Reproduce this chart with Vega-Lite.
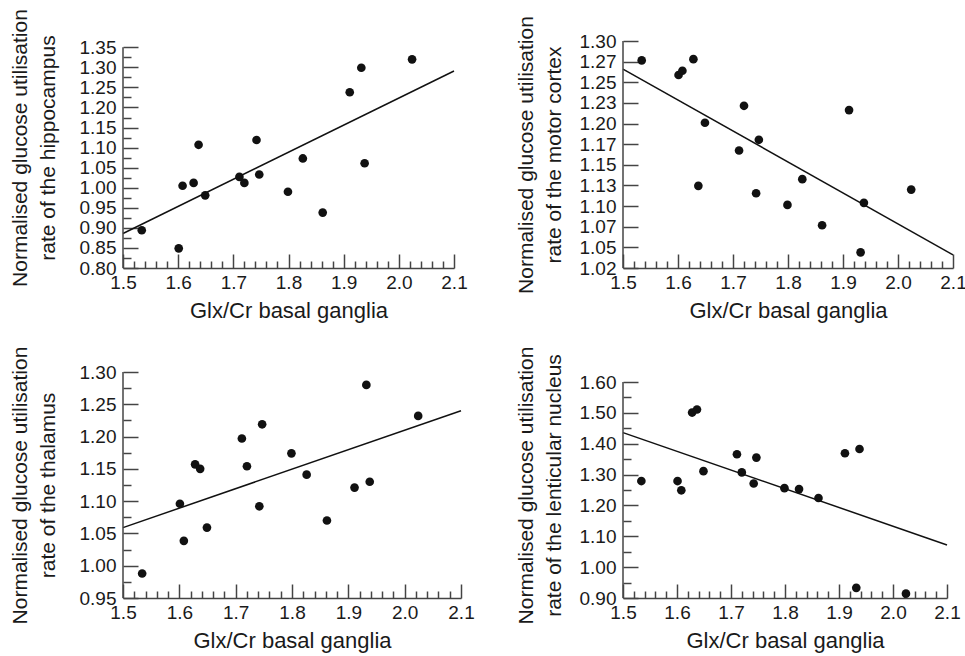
{
  "$schema": "https://vega.github.io/schema/vega-lite/v6.json",
  "padding": {"left": 9, "top": 8, "right": 5, "bottom": 5},
  "config": {
    "font": "Liberation Sans",
    "view": {"stroke": null},
    "axis": {
      "labelFont": "Liberation Sans", "titleFont": "Liberation Sans",
      "labelFontSize": 19, "titleFontSize": 21, "titleFontWeight": "normal",
      "labelColor": "#1a1a1a", "titleColor": "#1a1a1a",
      "domainColor": "#444", "domainWidth": 1.5, "tickColor": "#444", "tickWidth": 1.5,
      "grid": false, "labelOverlap": false, "labelFlush": false, "labelBound": false,
      "titleLineHeight": 28
    }
  },
  "datasets": {
    "subjects": [
      {"glx": 1.534, "hippocampus": 0.894, "motor": 1.2765, "thalamus": 0.988, "lenticular": 1.279},
      {"glx": 1.601, "hippocampus": 0.849, "motor": 1.2588, "thalamus": 1.096, "lenticular": 1.279},
      {"glx": 1.608, "hippocampus": 1.005, "motor": 1.264, "thalamus": 1.0385, "lenticular": 1.249},
      {"glx": 1.628, "hippocampus": 1.012, "motor": 1.278, "thalamus": 1.157, "lenticular": 1.501},
      {"glx": 1.637, "hippocampus": 1.107, "motor": 1.1245, "thalamus": 1.150, "lenticular": 1.511},
      {"glx": 1.649, "hippocampus": 0.981, "motor": 1.201, "thalamus": 1.059, "lenticular": 1.311},
      {"glx": 1.711, "hippocampus": 1.027, "motor": 1.1674, "thalamus": 1.197, "lenticular": 1.366},
      {"glx": 1.720, "hippocampus": 1.012, "motor": 1.2215, "thalamus": 1.154, "lenticular": 1.307},
      {"glx": 1.742, "hippocampus": 1.119, "motor": 1.1156, "thalamus": 1.092, "lenticular": 1.271},
      {"glx": 1.747, "hippocampus": 1.033, "motor": 1.1803, "thalamus": 1.219, "lenticular": 1.355},
      {"glx": 1.799, "hippocampus": 0.990, "motor": 1.1014, "thalamus": 1.174, "lenticular": 1.256},
      {"glx": 1.826, "hippocampus": 1.073, "motor": 1.1326, "thalamus": 1.141, "lenticular": 1.253},
      {"glx": 1.862, "hippocampus": 0.938, "motor": 1.0768, "thalamus": 1.070, "lenticular": 1.224},
      {"glx": 1.911, "hippocampus": 1.238, "motor": 1.2163, "thalamus": 1.121, "lenticular": 1.369},
      {"glx": 1.932, "hippocampus": 1.299, "motor": 1.044, "thalamus": 1.280, "lenticular": 0.933},
      {"glx": 1.938, "hippocampus": 1.061, "motor": 1.1039, "thalamus": 1.130, "lenticular": 1.383},
      {"glx": 2.024, "hippocampus": 1.320, "motor": 1.120, "thalamus": 1.232, "lenticular": 0.914}
    ],
    "fits": [
      {"glx": 1.5, "hippocampus": 0.886, "motor": 1.266, "thalamus": 1.059, "lenticular": 1.436},
      {"glx": 2.1, "hippocampus": 1.291, "motor": 1.041, "thalamus": 1.240, "lenticular": 1.072}
    ]
  },
  "bounds": "flush",
  "spacing": 500,
  "hconcat": [
    {
      "bounds": "flush",
      "spacing": 104,
      "vconcat": [
        {
          "width": 331, "height": 227,
          "resolve": {"axis": {"x": "independent", "y": "independent"}},
          "layer": [
            {
              "data": {"name": "subjects"},
              "mark": {"type": "circle", "size": 75, "color": "#111", "opacity": 1},
              "encoding": {
                "x": {"field": "glx", "type": "quantitative", "scale": {"domain": [1.5, 2.1], "nice": false, "zero": false},
                  "axis": {"orient": "bottom", "values": [1.5, 1.6, 1.7, 1.8, 1.9, 2.0, 2.1], "format": ".1f", "ticks": false, "labelPadding": 5, "labelFontSize": 19, "title": "Glx/Cr basal ganglia", "titleFontSize": 22, "titlePadding": 8}},
                "y": {"field": "hippocampus", "type": "quantitative", "scale": {"domain": [0.8, 1.3657], "nice": false, "zero": false},
                  "axis": {"orient": "left", "values": [0.8, 0.85, 0.9, 0.95, 1.0, 1.05, 1.1, 1.15, 1.2, 1.25, 1.3, 1.35], "format": ".2f", "ticks": false, "labelPadding": 7, "labelFontSize": 19, "domain": false,
                    "title": ["Normalised glucose utilisation", "rate of the hippocampus"], "titlePadding": 21, "titleY": 106.5}}
              }
            },
            {
              "data": {"name": "fits"},
              "mark": {"type": "line", "color": "#111", "strokeWidth": 1.5},
              "encoding": {
                "x": {"field": "glx", "type": "quantitative", "scale": {"domain": [1.5, 2.1], "nice": false, "zero": false},
                  "axis": {"orient": "top", "offset": -227, "values": [1.5, 1.6, 1.7, 1.8, 1.9, 2.0, 2.1], "tickSize": 14, "labels": false, "domain": false, "title": null}},
                "y": {"field": "hippocampus", "type": "quantitative", "scale": {"domain": [0.8, 1.3657], "nice": false, "zero": false},
                  "axis": {"orient": "right", "offset": -331, "values": [0.8, 0.85, 0.9, 0.95, 1.0, 1.05, 1.1, 1.15, 1.2, 1.25, 1.3, 1.35], "tickSize": 15, "labels": false, "domain": false, "title": null}}
              }
            },
            {
              "data": {"values": [{}]},
              "mark": {"type": "rule", "color": "#444", "strokeWidth": 1.5},
              "encoding": {
                "x": {"datum": 1.5, "type": "quantitative", "scale": {"domain": [1.5, 2.1], "nice": false, "zero": false},
                  "axis": {"orient": "top", "offset": -227, "values": [1.52, 1.54, 1.56, 1.58, 1.62, 1.64, 1.66, 1.68, 1.72, 1.74, 1.76, 1.78, 1.82, 1.84, 1.86, 1.88, 1.92, 1.94, 1.96, 1.98, 2.02, 2.04, 2.06, 2.08], "tickSize": 7, "labels": false, "domain": false, "title": null}},
                "y": {"datum": 0.8, "type": "quantitative", "scale": {"domain": [0.8, 1.3657], "nice": false, "zero": false},
                  "axis": {"orient": "right", "offset": -331, "values": [0.825, 0.875, 0.925, 0.975, 1.025, 1.075, 1.125, 1.175, 1.225, 1.275, 1.325], "tickSize": 8, "labels": false, "domain": false, "title": null}},
                "y2": {"datum": 1.35}
              }
            }
          ]
        },
        {
          "width": 338, "height": 226,
          "resolve": {"axis": {"x": "independent", "y": "independent"}},
          "layer": [
            {
              "data": {"name": "subjects"},
              "mark": {"type": "circle", "size": 75, "color": "#111", "opacity": 1},
              "encoding": {
                "x": {"field": "glx", "type": "quantitative", "scale": {"domain": [1.5, 2.1], "nice": false, "zero": false},
                  "axis": {"orient": "bottom", "values": [1.5, 1.6, 1.7, 1.8, 1.9, 2.0, 2.1], "format": ".1f", "ticks": false, "labelPadding": 5, "labelFontSize": 19, "title": "Glx/Cr basal ganglia", "titleFontSize": 22, "titlePadding": 8}},
                "y": {"field": "thalamus", "type": "quantitative", "scale": {"domain": [0.95, 1.3], "nice": false, "zero": false},
                  "axis": {"orient": "left", "values": [0.95, 1.0, 1.05, 1.1, 1.15, 1.2, 1.25, 1.3], "format": ".2f", "ticks": false, "labelPadding": 7, "labelFontSize": 19, "domain": false,
                    "title": ["Normalised glucose utilisation", "rate of the thalamus"], "titlePadding": 21}}
              }
            },
            {
              "data": {"name": "fits"},
              "mark": {"type": "line", "color": "#111", "strokeWidth": 1.5},
              "encoding": {
                "x": {"field": "glx", "type": "quantitative", "scale": {"domain": [1.5, 2.1], "nice": false, "zero": false},
                  "axis": {"orient": "top", "offset": -226, "values": [1.5, 1.6, 1.7, 1.8, 1.9, 2.0, 2.1], "tickSize": 14, "labels": false, "domain": false, "title": null}},
                "y": {"field": "thalamus", "type": "quantitative", "scale": {"domain": [0.95, 1.3], "nice": false, "zero": false},
                  "axis": {"orient": "right", "offset": -338, "values": [0.95, 1.0, 1.05, 1.1, 1.15, 1.2, 1.25, 1.3], "tickSize": 15, "labels": false, "domain": false, "title": null}}
              }
            },
            {
              "data": {"values": [{}]},
              "mark": {"type": "rule", "color": "#444", "strokeWidth": 1.5},
              "encoding": {
                "x": {"datum": 1.5, "type": "quantitative", "scale": {"domain": [1.5, 2.1], "nice": false, "zero": false},
                  "axis": {"orient": "top", "offset": -226, "values": [1.52, 1.54, 1.56, 1.58, 1.62, 1.64, 1.66, 1.68, 1.72, 1.74, 1.76, 1.78, 1.82, 1.84, 1.86, 1.88, 1.92, 1.94, 1.96, 1.98, 2.02, 2.04, 2.06, 2.08], "tickSize": 7, "labels": false, "domain": false, "title": null}},
                "y": {"datum": 0.95, "type": "quantitative", "scale": {"domain": [0.95, 1.3], "nice": false, "zero": false},
                  "axis": {"orient": "right", "offset": -338, "values": [0.975, 1.025, 1.075, 1.125, 1.175, 1.225, 1.275], "tickSize": 8, "labels": false, "domain": false, "title": null}},
                "y2": {"datum": 1.3}
              }
            }
          ]
        }
      ]
    },
    {
      "bounds": "flush",
      "spacing": 114,
      "vconcat": [
        {
          "width": 330, "height": 227,
          "resolve": {"axis": {"x": "independent", "y": "independent"}},
          "layer": [
            {
              "data": {"name": "subjects"},
              "mark": {"type": "circle", "size": 75, "color": "#111", "opacity": 1},
              "encoding": {
                "x": {"field": "glx", "type": "quantitative", "scale": {"domain": [1.5, 2.1], "nice": false, "zero": false},
                  "axis": {"orient": "bottom", "values": [1.5, 1.6, 1.7, 1.8, 1.9, 2.0, 2.1], "format": ".1f", "ticks": false, "labelPadding": 5, "labelFontSize": 19, "title": "Glx/Cr basal ganglia", "titleFontSize": 22, "titlePadding": 8}},
                "y": {"field": "motor", "type": "quantitative", "scale": {"domain": [1.025, 1.3], "nice": false, "zero": false},
                  "axis": {"orient": "left", "values": [1.025, 1.05, 1.075, 1.1, 1.125, 1.15, 1.175, 1.2, 1.225, 1.25, 1.275, 1.3], "ticks": false, "labelPadding": 7, "labelFontSize": 19, "domain": false,
                    "labelExpr": "datum.value < 1.03 ? '1.02' : (datum.value > 1.07 && datum.value < 1.08) ? '1.07' : (datum.value > 1.12 && datum.value < 1.13) ? '1.13' : (datum.value > 1.17 && datum.value < 1.18) ? '1.17' : (datum.value > 1.22 && datum.value < 1.23) ? '1.23' : (datum.value > 1.27 && datum.value < 1.28) ? '1.27' : format(datum.value, '.2f')",
                    "title": ["Normalised glucose utilisation", "rate of the motor cortex"], "titlePadding": 15}}
              }
            },
            {
              "data": {"name": "fits"},
              "mark": {"type": "line", "color": "#111", "strokeWidth": 1.5},
              "encoding": {
                "x": {"field": "glx", "type": "quantitative", "scale": {"domain": [1.5, 2.1], "nice": false, "zero": false},
                  "axis": {"orient": "top", "offset": -227, "values": [1.5, 1.6, 1.7, 1.8, 1.9, 2.0, 2.1], "tickSize": 14, "labels": false, "domain": false, "title": null}},
                "y": {"field": "motor", "type": "quantitative", "scale": {"domain": [1.025, 1.3], "nice": false, "zero": false},
                  "axis": {"orient": "right", "offset": -330, "values": [1.025, 1.05, 1.075, 1.1, 1.125, 1.15, 1.175, 1.2, 1.225, 1.25, 1.275, 1.3], "tickSize": 15, "labels": false, "domain": false, "title": null}}
              }
            },
            {
              "data": {"values": [{}]},
              "mark": {"type": "rule", "color": "#444", "strokeWidth": 1.5},
              "encoding": {
                "x": {"datum": 1.5, "type": "quantitative", "scale": {"domain": [1.5, 2.1], "nice": false, "zero": false},
                  "axis": {"orient": "top", "offset": -227, "values": [1.52, 1.54, 1.56, 1.58, 1.62, 1.64, 1.66, 1.68, 1.72, 1.74, 1.76, 1.78, 1.82, 1.84, 1.86, 1.88, 1.92, 1.94, 1.96, 1.98, 2.02, 2.04, 2.06, 2.08], "tickSize": 7, "labels": false, "domain": false, "title": null}},
                "y": {"datum": 1.025, "type": "quantitative", "scale": {"domain": [1.025, 1.3], "nice": false, "zero": false}, "axis": null},
                "y2": {"datum": 1.3}
              }
            }
          ]
        },
        {
          "width": 324, "height": 216,
          "resolve": {"axis": {"x": "independent", "y": "independent"}},
          "layer": [
            {
              "data": {"name": "subjects"},
              "mark": {"type": "circle", "size": 75, "color": "#111", "opacity": 1},
              "encoding": {
                "x": {"field": "glx", "type": "quantitative", "scale": {"domain": [1.5, 2.1], "nice": false, "zero": false},
                  "axis": {"orient": "bottom", "values": [1.5, 1.6, 1.7, 1.8, 1.9, 2.0, 2.1], "format": ".1f", "ticks": false, "labelPadding": 5, "labelFontSize": 19, "title": "Glx/Cr basal ganglia", "titleFontSize": 22, "titlePadding": 8}},
                "y": {"field": "lenticular", "type": "quantitative", "scale": {"domain": [0.9, 1.6], "nice": false, "zero": false},
                  "axis": {"orient": "left", "values": [0.9, 1.0, 1.1, 1.2, 1.3, 1.4, 1.5, 1.6], "format": ".2f", "ticks": false, "labelPadding": 7, "labelFontSize": 19, "domain": false,
                    "title": ["Normalised glucose utilisation", "rate of the lenticular nucleus"], "titlePadding": 15, "titleY": 103}}
              }
            },
            {
              "data": {"name": "fits"},
              "mark": {"type": "line", "color": "#111", "strokeWidth": 1.5},
              "encoding": {
                "x": {"field": "glx", "type": "quantitative", "scale": {"domain": [1.5, 2.1], "nice": false, "zero": false},
                  "axis": {"orient": "top", "offset": -216, "values": [1.5, 1.6, 1.7, 1.8, 1.9, 2.0, 2.1], "tickSize": 14, "labels": false, "domain": false, "title": null}},
                "y": {"field": "lenticular", "type": "quantitative", "scale": {"domain": [0.9, 1.6], "nice": false, "zero": false},
                  "axis": {"orient": "right", "offset": -324, "values": [0.9, 1.0, 1.1, 1.2, 1.3, 1.4, 1.5, 1.6], "tickSize": 15, "labels": false, "domain": false, "title": null}}
              }
            },
            {
              "data": {"values": [{}]},
              "mark": {"type": "rule", "color": "#444", "strokeWidth": 1.5},
              "encoding": {
                "x": {"datum": 1.5, "type": "quantitative", "scale": {"domain": [1.5, 2.1], "nice": false, "zero": false},
                  "axis": {"orient": "top", "offset": -216, "values": [1.52, 1.54, 1.56, 1.58, 1.62, 1.64, 1.66, 1.68, 1.72, 1.74, 1.76, 1.78, 1.82, 1.84, 1.86, 1.88, 1.92, 1.94, 1.96, 1.98, 2.02, 2.04, 2.06, 2.08], "tickSize": 7, "labels": false, "domain": false, "title": null}},
                "y": {"datum": 0.9, "type": "quantitative", "scale": {"domain": [0.9, 1.6], "nice": false, "zero": false},
                  "axis": {"orient": "right", "offset": -324, "values": [0.95, 1.05, 1.15, 1.25, 1.35, 1.45, 1.55], "tickSize": 8, "labels": false, "domain": false, "title": null}},
                "y2": {"datum": 1.6}
              }
            }
          ]
        }
      ]
    }
  ]
}
